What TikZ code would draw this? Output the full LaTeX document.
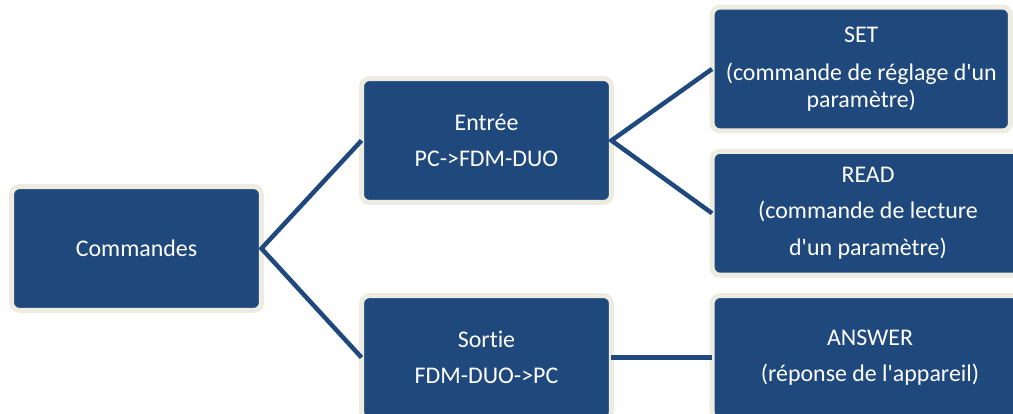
\documentclass[tikz,border=0pt]{standalone}
\usepackage{fontspec}
\setmainfont{Carlito}[Ligatures={NoCommon}]
\usepackage{tikz}
\usetikzlibrary{positioning}
\definecolor{cmdblue}{RGB}{31,73,125}
\definecolor{cmdcream}{RGB}{238,236,225}

\begin{document}
\begin{tikzpicture}[x=0.02cm,y=-0.02cm,
  cmdbox/.style={draw=cmdcream,fill=cmdblue,line width=0.1cm,rounded corners=0.16cm,
    minimum width=5cm,minimum height=2.48cm,outer sep=0pt,inner sep=0pt,
    text=white,align=center,font=\fontsize{13.6}{20.8}\selectfont},
  link/.style={draw=cmdblue,line width=0.09cm,line join=miter}
]
  \clip (0,0) rectangle (1013,413);

  % Root
  \node[cmdbox] (cmd) at (136.5,248.5) {Commandes};

  % Directions
  \node[cmdbox] (ent) at (486.5,140.5) {Entrée\\PC->FDM-DUO};
  \node[cmdbox] (sor) at (486.5,357.5) {Sortie\\FDM-DUO->PC};

  % Command types
  \node[cmdbox,minimum width=5.97cm,font=\fontsize{13.6}{15.4}\selectfont] (set) at (861.25,69)
    {SET\\[0.22cm](commande de réglage d\textquotesingle un\\paramètre)};
  \node[cmdbox,minimum width=6.24cm] (read) at (868,213.25)
    {READ\\(commande de lecture\\d\textquotesingle un paramètre)};
  \node[cmdbox,minimum width=6.32cm] (ans) at (870,357.5)
    {ANSWER\\(réponse de l\textquotesingle appareil)};

  % Connecting lines
  \draw[link] (ent.west) -- (cmd.east) -- (sor.west);
  \draw[link] (set.west) -- (ent.east) -- (read.west);
  \draw[link] (sor.east) -- (ans.west);
\end{tikzpicture}
\end{document}
